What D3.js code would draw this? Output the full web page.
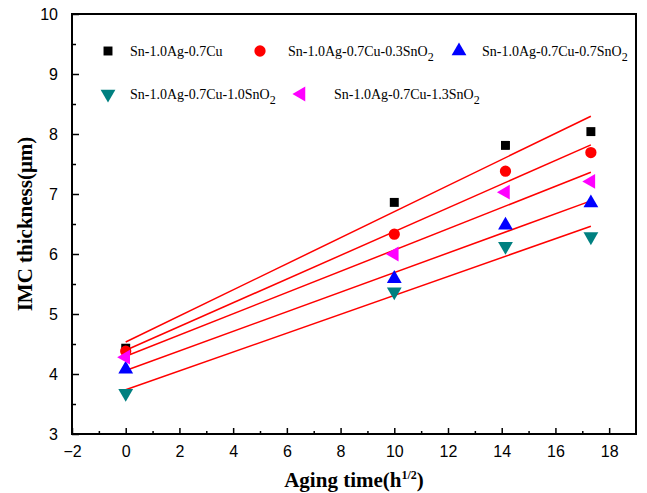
<!DOCTYPE html>
<html>
<head>
<meta charset="utf-8">
<script src="https://cdn.jsdelivr.net/npm/d3@7"></script>
<style>
body { margin: 0; background: #fff; }
.tick text { font-family: 'Liberation Sans', Arial, sans-serif; font-size: 16px; fill: #000; }
.title { font-family: 'Liberation Serif', 'Times New Roman', serif; font-weight: bold; font-size: 21px; }
.legend text { font-family: 'Liberation Serif', 'Times New Roman', serif; font-size: 14px; }
</style>
</head>
<body>
<div id="chart"></div>
<script>
// aging time in h^1/2
let times = [0, 10, 14.14, 17.32]

let names = ['Sn-1.0Ag-0.7Cu', 'Sn-1.0Ag-0.7Cu-0.3SnO', 'Sn-1.0Ag-0.7Cu-0.7SnO', 'Sn-1.0Ag-0.7Cu-1.0SnO', 'Sn-1.0Ag-0.7Cu-1.3SnO']
let subs = ['', '2', '2', '2', '2']

let cu = [4.43, 6.86, 7.81, 8.04]
let sno03 = [4.38, 6.33, 7.38, 7.69]
let sno07 = [4.08, 5.59, 6.48, 6.85]
let sno10 = [3.68, 5.37, 6.13, 6.29]
let sno13 = [4.28, 6.0, 7.03, 7.21]

let colors = ['#000000', '#ff0000', '#0000ff', '#008080', '#ff00ff']
let xTicks = [-2, 0, 2, 4, 6, 8, 10, 12, 14, 16, 18]
let yTicks = [3, 4, 5, 6, 7, 8, 9, 10]

let series = [cu, sno03, sno07, sno10, sno13]

let margin = { left: 72, top: 14 }
let width = 564, height = 420

let svg = d3.select('#chart')
.append('svg')
.attr('width', 647)
.attr('height', 493)

let g = svg.append('g')
.attr('transform', `translate(${margin.left}, ${margin.top})`)

let x = d3.scaleLinear().domain([-2, 19]).range([0, width])
let y = d3.scaleLinear().domain([3, 10]).range([height, 0])

// minor ticks first
g.append('g')
.attr('transform', `translate(0, ${height})`)
.call(d3.axisBottom(x).tickValues(d3.range(-1, 19, 2)).tickSize(-3).tickFormat(''))
.call(a => a.select('.domain').remove())
.selectAll('line').attr('stroke-width', 1.5)

g.append('g')
.call(d3.axisLeft(y).tickValues(d3.range(3.5, 10, 1)).tickSize(-4).tickFormat(''))
.call(a => a.select('.domain').remove())
.selectAll('line').attr('stroke-width', 1.5)

let xAxis = g.append('g')
.attr('transform', `translate(0, ${height})`)
.call(d3.axisBottom(x).tickValues(xTicks).tickSizeInner(-6).tickSizeOuter(0).tickPadding(12).tickFormat(d3.format('d')))
xAxis.select('.domain').remove()
xAxis.selectAll('line').attr('stroke-width', 1.5)

let yAxis = g.append('g')
.call(d3.axisLeft(y).tickValues(yTicks).tickSizeInner(-7).tickSizeOuter(0).tickPadding(14).tickFormat(d3.format('d')))
yAxis.select('.domain').remove()
yAxis.selectAll('line').attr('stroke-width', 1.5)

g.append('rect')
.attr('width', width)
.attr('height', height)
.attr('fill', 'none')
.attr('stroke', '#000')
.attr('stroke-width', 2)

// least squares fit for each series
function fit(vals) {
	let mx = d3.mean(times), my = d3.mean(vals)
	let sxy = d3.sum(times, (t, i) => (t - mx) * (vals[i] - my))
	let sxx = d3.sum(times, t => (t - mx) * (t - mx))
	let b = sxy / sxx
	return t => my + b * (t - mx)
}

let t0 = d3.min(times), t1 = d3.max(times)
series.forEach(vals => {
	let f = fit(vals)
	g.append('line')
	.attr('x1', x(t0)).attr('y1', y(f(t0)))
	.attr('x2', x(t1)).attr('y2', y(f(t1)))
	.attr('stroke', '#ff0000')
	.attr('stroke-width', 1.5)
})

let shapes = [
	{ type: d3.symbolSquare, size: 80, rot: 0 },
	{ type: d3.symbolCircle, size: 100, rot: 0 },
	{ type: d3.symbolTriangle, size: 95, rot: 0 },
	{ type: d3.symbolTriangle, size: 95, rot: 180 },
	{ type: d3.symbolTriangle, size: 95, rot: -90 }
]

series.forEach((vals, k) => {
	let s = shapes[k]
	g.selectAll('.pt' + k)
	.data(vals)
	.join('path')
	.attr('class', 'pt' + k)
	.attr('d', d3.symbol().type(s.type).size(s.size))
	.attr('transform', (d, i) => `translate(${x(times[i])}, ${y(d)}) rotate(${s.rot})`)
	.attr('fill', colors[k])
})

// legend
let legendPos = [
	{ mx: 36, tx: 58, y: 37 },
	{ mx: 188, tx: 216, y: 37 },
	{ mx: 387, tx: 410, y: 37 },
	{ mx: 36, tx: 58, y: 80 },
	{ mx: 229, tx: 262, y: 80 }
]

let legend = g.append('g').attr('class', 'legend')
names.forEach((n, k) => {
	let p = legendPos[k], s = shapes[k]
	legend.append('path')
	.attr('d', d3.symbol().type(s.type).size(s.size))
	.attr('transform', `translate(${p.mx}, ${p.y}) rotate(${s.rot})`)
	.attr('fill', colors[k])
	let t = legend.append('text')
	.attr('x', p.tx)
	.attr('y', p.y + 5)
	t.append('tspan').text(n)
	if (subs[k]) t.append('tspan').attr('dy', 5).attr('font-size', 12).text(subs[k])
})

// axis titles
let yt = svg.append('text')
.attr('class', 'title')
.attr('text-anchor', 'middle')
.attr('transform', `translate(32, ${margin.top + height / 2}) rotate(-90)`)
.text('IMC thickness(μm)')

let xt = svg.append('text')
.attr('class', 'title')
.attr('text-anchor', 'middle')
.attr('x', margin.left + width / 2)
.attr('y', 487)
xt.append('tspan').text('Aging time(h')
xt.append('tspan').attr('dy', -8).attr('font-size', 12).text('1/2')
xt.append('tspan').attr('dy', 8).text(')')
</script>
</body>
</html>
